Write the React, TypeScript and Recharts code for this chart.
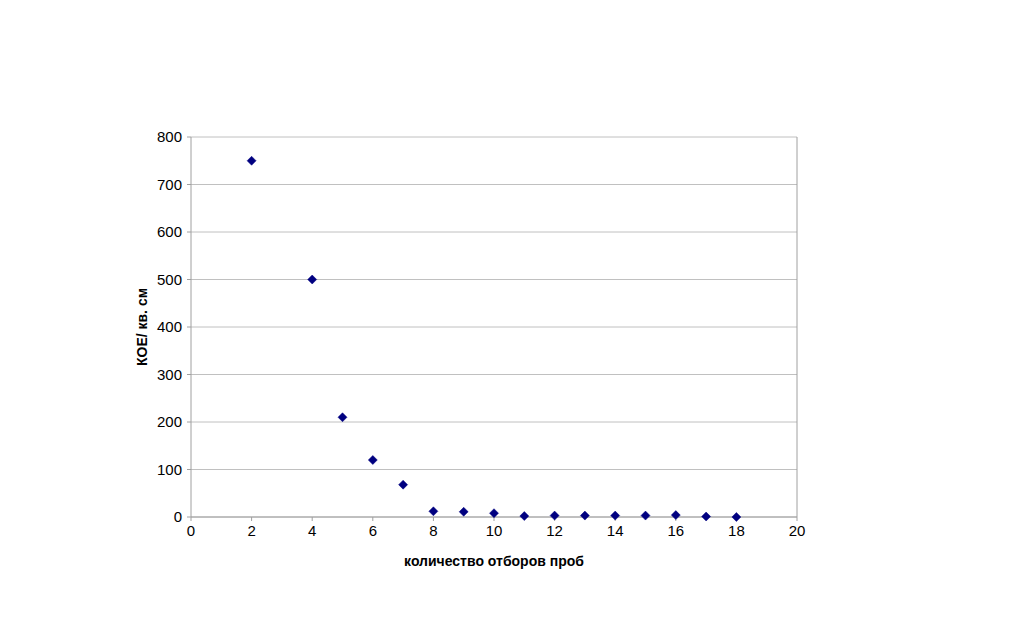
import React from 'react';
import { ScatterChart, Scatter, XAxis, YAxis, CartesianGrid, ReferenceLine } from 'recharts';

const samplingCounts = [2, 4, 5, 6, 7, 8, 9, 10, 11, 12, 13, 14, 15, 16, 17, 18];
const cfuValues = [750, 500, 210, 120, 68, 12, 11, 8, 2, 3, 3, 3, 3, 4, 1, 0];
const xTicks = [0, 2, 4, 6, 8, 10, 12, 14, 16, 18, 20];
const yTicks = [0, 100, 200, 300, 400, 500, 600, 700, 800];

const data = samplingCounts.map((x, i) => ({ x, y: cfuValues[i] }));

const Diamond = (props: any) => {
  const { cx, cy } = props;
  const r = 4.5;
  return (
    <polygon
      points={`${cx},${cy - r} ${cx + r},${cy} ${cx},${cy + r} ${cx - r},${cy}`}
      fill="#000080"
      stroke="#000080"
      strokeWidth={0.5}
    />
  );
};

const font = "'Liberation Sans', Arial, sans-serif";

export default function App() {
  return (
    <div style={{ position: 'absolute', left: 0, top: 0, width: 1024, height: 637, background: '#fff' }}>
      <ScatterChart width={1024} height={637} margin={{ top: 137, right: 227, bottom: 90, left: 131 }}>
        <CartesianGrid vertical={false} stroke="#c0c0c0" strokeWidth={1} />
        <XAxis
          type="number"
          dataKey="x"
          domain={[0, 20]}
          ticks={xTicks}
          height={30}
          stroke="#a0a0a0"
          tickSize={4}
          tickMargin={4}
          tick={{ fill: '#000', fontSize: 15, fontFamily: font }}
          interval={0}
          label={{
            value: 'количество отборов проб',
            position: 'insideBottom',
            offset: -19,
            style: { fill: '#000', fontSize: 14, fontWeight: 'bold', fontFamily: font },
          }}
        />
        <YAxis
          type="number"
          dataKey="y"
          domain={[0, 800]}
          ticks={yTicks}
          width={60}
          stroke="#a0a0a0"
          tickSize={4}
          tickMargin={5}
          tick={{ fill: '#000', fontSize: 15, fontFamily: font }}
          interval={0}
          label={{
            value: 'КОЕ/ кв. см',
            angle: -90,
            position: 'insideLeft',
            offset: 11,
            style: { textAnchor: 'middle', fill: '#000', fontSize: 14, fontWeight: 'bold', fontFamily: font },
          }}
        />
        <ReferenceLine x={20} stroke="#a0a0a0" />
        <Scatter data={data} shape={<Diamond />} isAnimationActive={false} />
      </ScatterChart>
    </div>
  );
}
